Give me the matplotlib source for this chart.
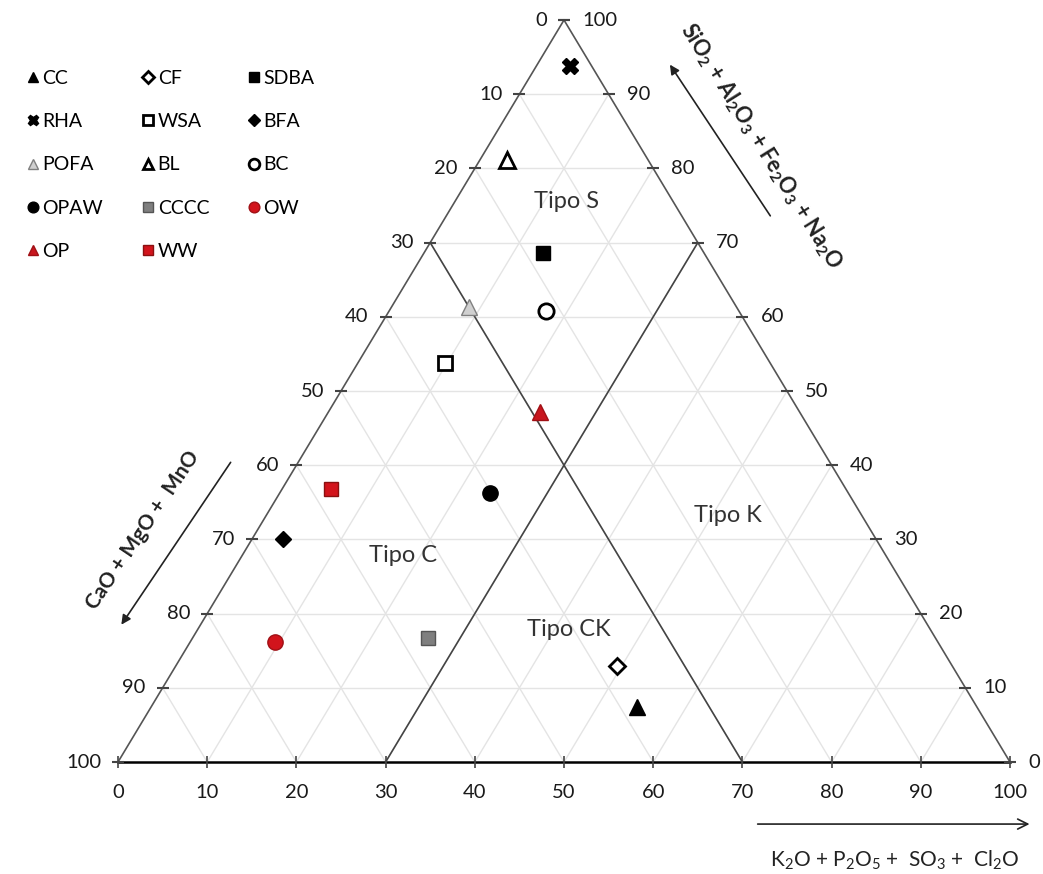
import matplotlib.pyplot as plt
import numpy as np

plt.rcParams['font.family'] = ['Lato', 'DejaVu Sans']
plt.rcParams['mathtext.default'] = 'regular'

# muestras: (K2O+P2O5+SO3+Cl2O, SiO2+Al2O3+Fe2O3+Na2O), el resto es CaO+MgO+MnO
names = ['CC', 'CF', 'SDBA', 'RHA', 'WSA', 'BFA', 'POFA', 'BL', 'BC',
         'OPAW', 'CCCC', 'OW', 'OP', 'WW']
k_vals = [54.5, 49.5, 13.4, 3.8, 9.8, 3.5, 8.7, 3.1, 17.6, 23.6, 26.4, 9.5, 23.7, 5.5]
s_vals = [7.4, 12.9, 68.6, 93.8, 53.8, 30.1, 61.3, 81.1, 60.8, 36.3, 16.7, 16.2, 47.2, 36.8]

# estilo de cada muestra: marcador, relleno, borde
styles = {
    'CC':   ('^', 'black', 'black'),
    'CF':   ('D', 'white', 'black'),
    'SDBA': ('s', 'black', 'black'),
    'RHA':  ('X', 'black', 'black'),
    'WSA':  ('s', 'white', 'black'),
    'BFA':  ('D', 'black', 'black'),
    'POFA': ('^', '#d0d0d0', '#808080'),
    'BL':   ('^', 'white', 'black'),
    'BC':   ('o', 'white', 'black'),
    'OPAW': ('o', 'black', 'black'),
    'CCCC': ('s', '#7f7f7f', '#555555'),
    'OW':   ('o', '#d2141c', '#a01015'),
    'OP':   ('^', '#c8161e', '#a01015'),
    'WW':   ('s', '#d2141c', '#8a1010'),
}

zonas = ['Tipo S', 'Tipo C', 'Tipo K', 'Tipo CK']
zona_k = [12.5, 18.0, 51.8, 41.6]
zona_s = [75.5, 27.9, 33.2, 17.8]

ticks = np.arange(0, 101, 10)


def xy(k, s):
    k = np.asarray(k, dtype=float)
    s = np.asarray(s, dtype=float)
    return k + s / 2.0, s


fig = plt.figure(figsize=(10.43, 8.74), dpi=100)
ax = fig.add_axes([0, 0, 1, 1])
ax.set_xlim(-13.23, 103.7)
ax.set_ylim(-15.09, 102.7)
ax.axis('off')

# rejilla
gc = '#e4e4e4'
for t in ticks[1:-1]:
    x, y = xy([0, 100 - t], [t, t])
    ax.plot(x, y, color=gc, lw=1, zorder=1)
    x, y = xy([t, t], [0, 100 - t])
    ax.plot(x, y, color=gc, lw=1, zorder=1)
    x, y = xy([100 - t, 0], [0, 100 - t])
    ax.plot(x, y, color=gc, lw=1, zorder=1)

# bordes del triangulo
x, y = xy([0, 0], [0, 100])
ax.plot(x, y, color='#555555', lw=1.2, zorder=2)
x, y = xy([100, 0], [0, 100])
ax.plot(x, y, color='#555555', lw=1.2, zorder=2)
x, y = xy([0, 100], [0, 0])
ax.plot(x, y, color='black', lw=1.8, zorder=2)

# limites de zonas (C = 30 y K = 30)
x, y = xy([70, 0], [0, 70])
ax.plot(x, y, color='#444444', lw=1.2, zorder=2)
x, y = xy([30, 30], [0, 70])
ax.plot(x, y, color='#444444', lw=1.2, zorder=2)

# marcas y etiquetas de los ejes
tfs = 14.5
x, y = xy(np.zeros_like(ticks), ticks)
ax.plot(x, y, ls='none', marker='_', ms=8, mew=1.5, color='#444444', zorder=3)
for xi, yi, t in zip(x, y, ticks):
    ax.annotate(str(100 - t), (xi, yi), xytext=(-17, 0), textcoords='offset pixels',
                ha='right', va='center', fontsize=tfs, color='#1a1a1a')
x, y = xy(100 - ticks, ticks)
ax.plot(x, y, ls='none', marker='_', ms=8, mew=1.5, color='#444444', zorder=3)
for xi, yi, t in zip(x, y, ticks):
    ax.annotate(str(t), (xi, yi), xytext=(18, 0), textcoords='offset pixels',
                ha='left', va='center', fontsize=tfs, color='#1a1a1a')
x, y = xy(ticks, np.zeros_like(ticks))
ax.plot(x, y, ls='none', marker='|', ms=9, mew=1.2, color='#444444', zorder=3)
for xi, yi, t in zip(x, y, ticks):
    ax.annotate(str(t), (xi, yi), xytext=(0, -30), textcoords='offset pixels',
                ha='center', va='center', fontsize=tfs, color='#1a1a1a')

# nombres de zonas
for z, k, s in zip(zonas, zona_k, zona_s):
    x, y = xy(k, s)
    ax.text(x, y, z, ha='center', va='center', fontsize=17, color='#333333')

# muestras
handles = {}
x, y = xy(k_vals, s_vals)
for n, xi, yi in zip(names, x, y):
    m, fc, ec = styles[n]
    ms = 11 if m in ('^', 'o', 'X') else 10
    if m == 'D':
        ms = 8.5
    mew = 2 if fc == 'white' else 1
    h, = ax.plot(xi, yi, ls='none', marker=m, ms=ms, mfc=fc, mec=ec, mew=mew,
                 zorder=5, label=n)
    handles[n] = h

# leyenda en tres columnas
orden = ['CC', 'RHA', 'POFA', 'OPAW', 'OP',
         'CF', 'WSA', 'BL', 'CCCC', 'WW',
         'SDBA', 'BFA', 'BC', 'OW']
fig.legend([handles[n] for n in orden], orden, loc='upper left',
           bbox_to_anchor=(0.009, 0.940), ncol=3, frameon=False,
           fontsize=14, markerscale=0.7, handlelength=0.6, handletextpad=0.2,
           columnspacing=2.0, labelspacing=1.35)

# titulos de los ejes con flechas
ax.annotate('', xy=(61.7, 94.3), xytext=(73.3, 73.3),
            arrowprops=dict(arrowstyle='-|>', color='#222222', lw=1.2, mutation_scale=14))
ax.text(72.1, 83.0, 'SiO$_2$ + Al$_2$O$_3$ + Fe$_2$O$_3$ + Na$_2$O', rotation=-58,
        ha='center', va='center', fontsize=15.5, fontweight='bold', color='#222222')

ax.annotate('', xy=(0.2, 18.2), xytext=(12.8, 40.7),
            arrowprops=dict(arrowstyle='-|>', color='#222222', lw=1.2, mutation_scale=14))
ax.text(2.8, 31.3, 'CaO + MgO +  MnO', rotation=56,
        ha='center', va='center', fontsize=15, fontweight='bold', color='#222222')

ax.annotate('', xy=(102.5, -8.36), xytext=(71.4, -8.36),
            arrowprops=dict(arrowstyle='->', color='#222222', lw=1.2, mutation_scale=18))
ax.text(87.1, -13.3, 'K$_2$O + P$_2$O$_5$ +  SO$_3$ +  Cl$_2$O',
        ha='center', va='center', fontsize=15, color='#222222')

plt.savefig('out.png', dpi=100)
